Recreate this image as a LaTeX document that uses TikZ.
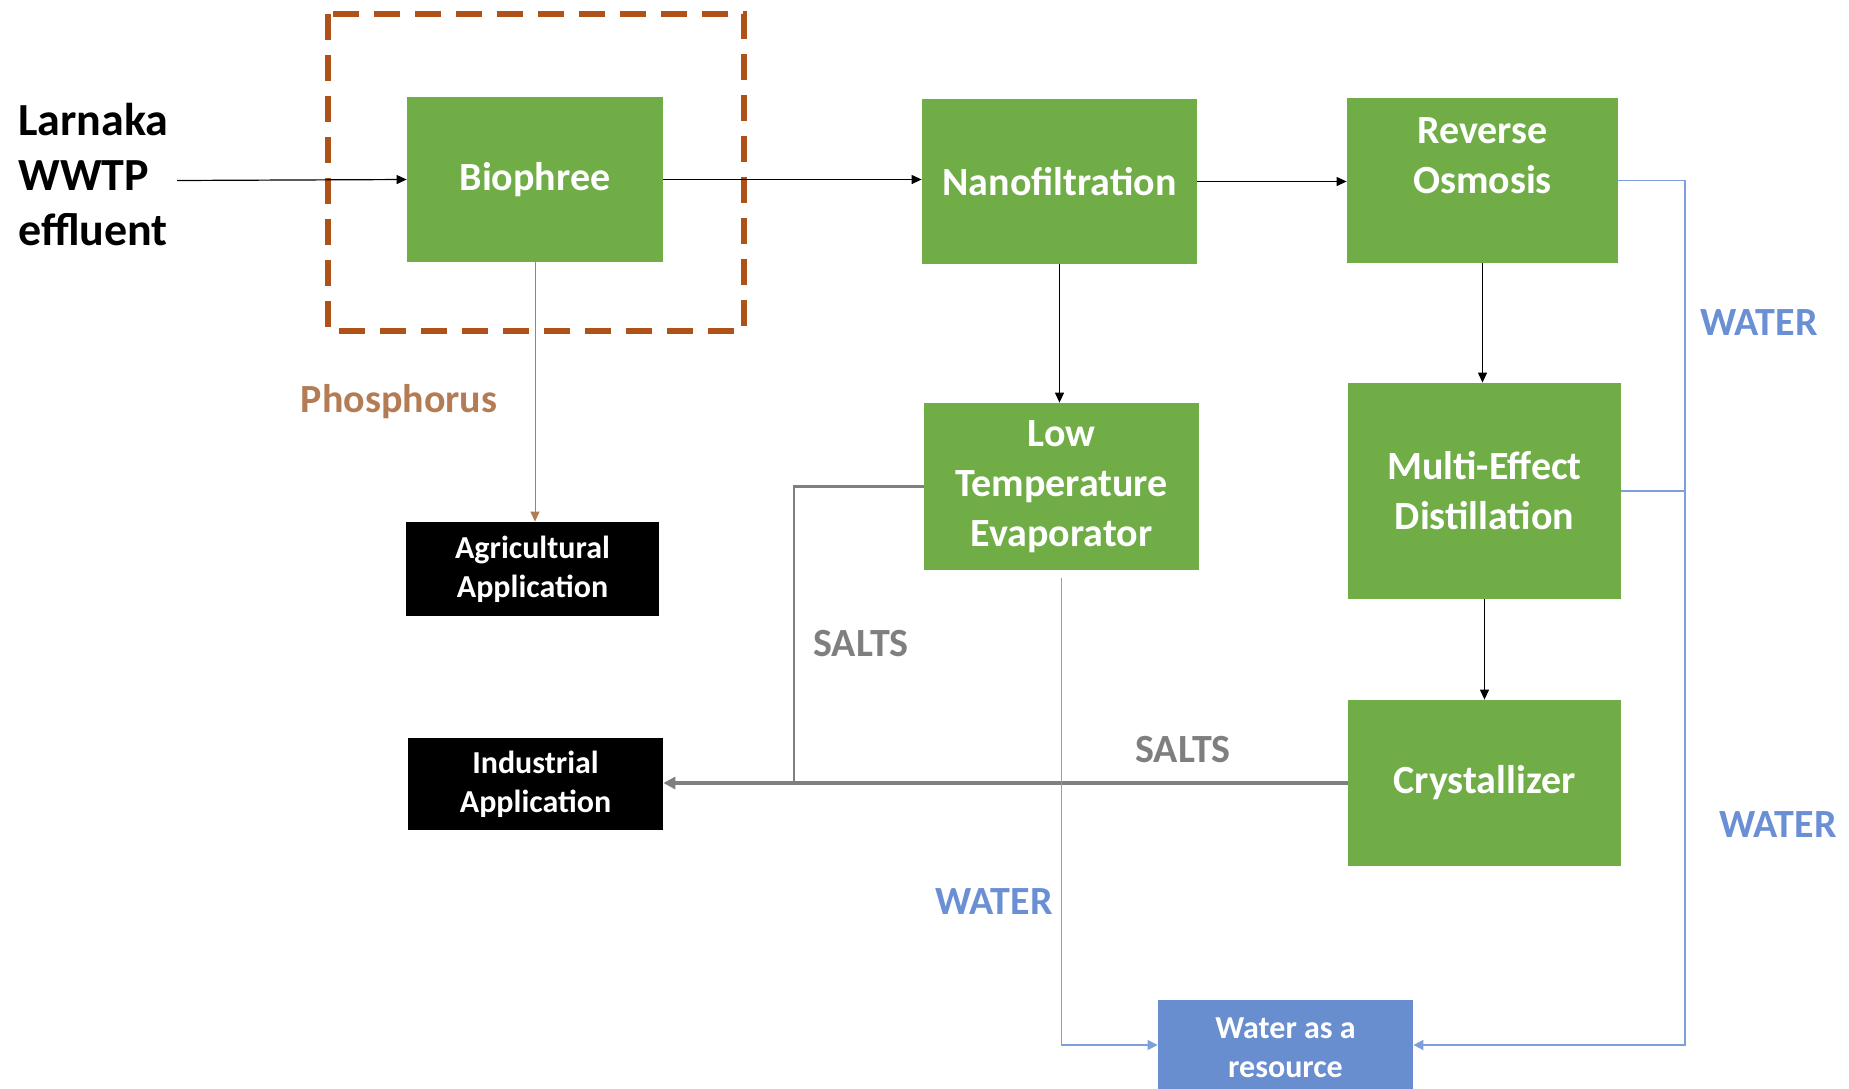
\documentclass[tikz,border=0pt]{standalone}
\usepackage{fontspec}
\setmainfont{Carlito}
\usetikzlibrary{arrows.meta}
\definecolor{boxgreen}{HTML}{70AD47}
\definecolor{boxblue}{HTML}{698ED0}
\definecolor{linkblue}{HTML}{7EA0DA}
\definecolor{txtblue}{HTML}{6A8FD4}
\definecolor{saltgray}{HTML}{7F7F7F}
\definecolor{phbrown}{HTML}{B47C55}
\definecolor{dashbrown}{HTML}{AE5219}
\tikzset{
  greentext/.style={text=white, align=center, inner sep=0pt,
    font=\bfseries\fontsize{20}{25}\selectfont},
  greenbox/.style={fill=boxgreen, greentext},
  blackbox/.style={fill=black, text=white, align=center, inner sep=0pt,
    font=\bfseries\fontsize{16}{19.5}\selectfont},
  bluebox/.style={fill=boxblue, text=white, align=center, inner sep=0pt,
    font=\bfseries\fontsize{16}{19.5}\selectfont},
  lbl/.style={font=\bfseries\fontsize{20}{24}\selectfont, inner sep=0pt},
  arr/.style={-{Triangle[length=5pt,width=4.5pt]}, line width=0.6pt},
}
\begin{document}
\begin{tikzpicture}[x=0.5pt,y=-0.5pt]
\clip (0,0) rectangle (1849,1088);
\fill[white] (0,0) rectangle (1849,1088);

% dashed frame
\draw[dashbrown, line width=3pt, dash pattern=on 13pt off 7.5pt] (328,14) rectangle (744,331);

% process boxes
\node[greenbox, minimum width=128pt, minimum height=82.5pt] (bio) at (535,179.5) {Biophree};
\node[greenbox, minimum width=137.5pt, minimum height=82.5pt] (nf) at (1059.5,181.5) {Nanofiltration};
\node[greenbox, minimum width=135.5pt, minimum height=82.5pt,
  label={[greentext, yshift=12.5pt]center:Reverse\\Osmosis}] (ro) at (1482.5,180.5) {};
\node[greenbox, minimum width=137.5pt, minimum height=83.5pt] (lte) at (1061.5,486.5) {Low\\Temperature\\Evaporator};
\node[greenbox, minimum width=136.5pt, minimum height=108pt] (med) at (1484.5,491) {Multi-Effect\\Distillation};
\node[greenbox, minimum width=136.5pt, minimum height=83pt] (cry) at (1484.5,783) {Crystallizer};
\node[blackbox, minimum width=126.5pt, minimum height=47pt] (agri) at (532.5,569) {Agricultural\\Application};
\node[blackbox, minimum width=127.5pt, minimum height=46pt] (ind) at (535.5,784) {Industrial\\Application};
\node[bluebox, minimum width=127.5pt, minimum height=48pt] (water) at (1285.5,1048) {Water as a\\resource};

% source text
\node[anchor=west, align=left, inner sep=0pt, font=\bfseries\fontsize{23}{27.5}\selectfont] (src) at (18,175) {Larnaka\\WWTP\\effluent};
\coordinate (srcout) at (177,180.5);

% main flow
\draw[arr] (srcout) -- (bio.west);
\draw[arr] (bio.east) -- (bio.east -| nf.west);
\draw[arr] (nf.east) -- (nf.east -| ro.west);
\draw[arr] (nf.south) -- (nf.south |- lte.north);
\draw[arr] (ro.south) -- (ro.south |- med.north);
\draw[arr] (med.south) -- (med.south |- cry.north);

% phosphorus
\draw[arr, phbrown, line width=0.5pt] (bio.south) -- (bio.south |- agri.north);
\node[lbl, text=phbrown] (phl) at (399,402) {Phosphorus};

% salts
\coordinate (sj) at (794,783);
\draw[saltgray, line width=1.2pt] (lte.west) -| (sj);
\draw[-{Triangle[length=6pt,width=6pt]}, saltgray, line width=1.6pt] (cry.west) -- (cry.west -| ind.east);
\node[lbl, text=saltgray] (s1) at (861,644) {SALTS};
\node[lbl, text=saltgray] (s2) at (1183,750) {SALTS};

% water
\coordinate (wr) at (1685,1045);
\draw[linkblue, line width=0.6pt, -{Triangle[length=5pt,width=5pt]}] ([yshift=-4pt]lte.south) |- ([yshift=1.5pt]water.west);
\draw[linkblue, line width=0.9pt, -{Triangle[length=5pt,width=5pt]}] (ro.east) -| (wr) -- ([yshift=1.5pt]water.east);
\draw[linkblue, line width=0.9pt] (med.east) -- (med.east -| wr);
\node[lbl, text=txtblue] (w1) at (1759,323) {WATER};
\node[lbl, text=txtblue] (w2) at (1778,825) {WATER};
\node[lbl, text=txtblue] (w3) at (994,902) {WATER};
\end{tikzpicture}
\end{document}
